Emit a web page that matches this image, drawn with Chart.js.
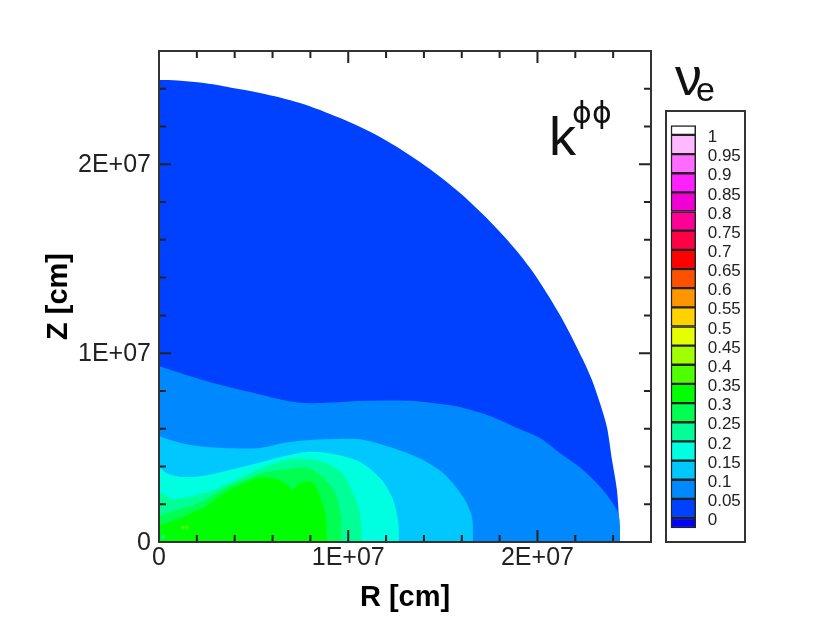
<!DOCTYPE html>
<html>
<head>
<meta charset="utf-8">
<script src="https://cdn.jsdelivr.net/npm/chart.js@4/dist/chart.umd.min.js"></script>
<style>
html,body{margin:0;padding:0;background:#fff;width:830px;height:633px;overflow:hidden}
#page{position:relative;width:830px;height:633px;filter:blur(0.55px)}
#main{position:absolute;left:0;top:0}
#box{position:absolute;left:665px;top:110px;width:81px;height:433px;box-sizing:border-box;border:2px solid #333}
#bar{display:block}
</style>
</head>
<body>
<div id="page">
<canvas id="main" width="830" height="633"></canvas>
<div id="box"><canvas id="bar" width="77" height="429"></canvas></div>
</div>
<script>
// All R/Z values are in units of 1E+07 cm.
const starR = [0,0.100,0.217,0.307,0.375,0.534,0.745,0.957,1.168,1.379,1.591,1.802,1.961,2.119,2.241,2.288,2.330,2.367,2.394,2.420,2.431,2.436];
const starZ = [2.446,2.444,2.433,2.420,2.407,2.378,2.325,2.245,2.145,2.012,1.848,1.642,1.451,1.202,0.964,0.858,0.736,0.609,0.434,0.275,0.116,0];

const level005R = [0,0.127,0.307,0.481,0.655,0.761,0.888,1.099,1.326,1.485,1.591,1.749,1.892,2.013,2.119,2.241,2.346,2.420,2.434,2.436];
const level005Z = [0.932,0.890,0.837,0.794,0.752,0.736,0.738,0.748,0.748,0.731,0.715,0.667,0.604,0.551,0.471,0.381,0.275,0.169,0.116,0];

const level010R = [0,0.058,0.164,0.338,0.534,0.655,0.798,1.046,1.184,1.363,1.501,1.607,1.654,1.659];
const level010Z = [0.561,0.540,0.514,0.498,0.498,0.524,0.540,0.545,0.514,0.450,0.365,0.238,0.132,0];

const level015R = [0,0.048,0.122,0.227,0.333,0.439,0.544,0.666,0.782,0.920,1.062,1.168,1.231,1.263,1.268];
const level015Z = [0.397,0.360,0.344,0.349,0.371,0.397,0.424,0.455,0.477,0.466,0.424,0.339,0.238,0.116,0];

const level020R = [0,0.069,0.153,0.259,0.349,0.439,0.544,0.676,0.761,0.867,0.967,1.025,1.062,1.073];
const level020Z = [0.265,0.228,0.238,0.265,0.302,0.344,0.392,0.434,0.440,0.424,0.365,0.259,0.154,0];

const level025R = [0,0.048,0.153,0.243,0.349,0.454,0.544,0.676,0.782,0.867,0.930,0.962,0.963];
const level025Z = [0.138,0.154,0.185,0.222,0.286,0.328,0.365,0.387,0.392,0.344,0.259,0.132,0];

const level030R = [0,0.085,0.174,0.243,0.312,0.402,0.523,0.597,0.655,0.708,0.745,0.787,0.824,0.851,0.877,0.888];
const level030Z = [0.085,0.116,0.154,0.185,0.238,0.291,0.339,0.339,0.318,0.281,0.312,0.323,0.302,0.238,0.154,0];

const spotR = [0.127,0.148];
const spotZ = [0.077,0.077];
const cornerR = [0.021];
const cornerZ = [0.026];

const bandLow = [-0.026,0,0.05,0.1,0.15,0.2,0.25,0.3,0.35,0.4,0.45,0.5,0.55,0.6,0.65,0.7,0.75,0.8,0.85,0.9,0.95,1];
const bandHigh = [0,0.05,0.1,0.15,0.2,0.25,0.3,0.35,0.4,0.45,0.5,0.55,0.6,0.65,0.7,0.75,0.8,0.85,0.9,0.95,1,1.024];
const bandColors = ['#0000ff','#0040ff','#0088ff','#00c8ff','#00ffe0','#00ff96','#00ff50','#00ff00','#50ff00','#a0ff00','#e6ff00','#ffd200','#ff9600','#ff5000','#ff0000','#ff0046','#ff0096','#f000d2','#ff20ff','#ff6cff','#ffb9ff','#ffffff'];
const legendLevels = [0,0.05,0.1,0.15,0.2,0.25,0.3,0.35,0.4,0.45,0.5,0.55,0.6,0.65,0.7,0.75,0.8,0.85,0.9,0.95,1];
const legendLabels = ['0','0.05','0.1','0.15','0.2','0.25','0.3','0.35','0.4','0.45','0.5','0.55','0.6','0.65','0.7','0.75','0.8','0.85','0.9','0.95','1'];

const axisTicks = [0,0.2,0.4,0.6,0.8,1,1.2,1.4,1.6,1.8,2,2.2,2.4,2.6];
const majorTicks = [0,1,2];
const majorLabels = ['0','1E+07','2E+07'];
const UNIT = 1e7;
const FONT = '"Liberation Sans", Arial, sans-serif';
const INK = '#222';

function pts(r, z) { return r.map((v, i) => ({ x: v * UNIT, y: z[i] * UNIT })); }

const layers = [
  [starR, starZ, '#0040ff'],
  [level005R, level005Z, '#0088ff'],
  [level010R, level010Z, '#00c8ff'],
  [level015R, level015Z, '#00ffe0'],
  [level020R, level020Z, '#00ff96'],
  [level025R, level025Z, '#00ff50'],
  [level030R, level030Z, '#00ff00']
];

const datasets = layers.map((l, i) => ({
  data: pts(l[0], l[1]),
  showLine: true, fill: 'origin', backgroundColor: l[2],
  borderWidth: 0, pointRadius: 0, tension: 0.3,
  order: layers.length + 2 - i
}));
datasets.push({ data: pts(spotR, spotZ), showLine: false, pointRadius: 1.6, pointBorderWidth: 0, pointBackgroundColor: '#60ff00', order: 1 });
datasets.push({ data: pts(cornerR, cornerZ), showLine: false, pointRadius: 2, pointBorderWidth: 0, pointBackgroundColor: '#00ff96', order: 0 });

const framePlugin = {
  id: 'frame',
  afterDraw(chart) {
    const { ctx, chartArea: a, scales: { x, y } } = chart;
    ctx.save();
    ctx.strokeStyle = INK;
    ctx.lineWidth = 2;
    ctx.beginPath();
    axisTicks.forEach(t => {
      const len = majorTicks.includes(t) ? 12 : 7;
      const px = x.getPixelForValue(t * UNIT);
      const py = y.getPixelForValue(t * UNIT);
      ctx.moveTo(px, a.bottom); ctx.lineTo(px, a.bottom - len);
      ctx.moveTo(px, a.top); ctx.lineTo(px, a.top + len);
      ctx.moveTo(a.left, py); ctx.lineTo(a.left + len, py);
      ctx.moveTo(a.right, py); ctx.lineTo(a.right - len, py);
    });
    ctx.stroke();
    ctx.strokeStyle = '#333';
    ctx.strokeRect(a.left, a.top, a.right - a.left, a.bottom - a.top);

    ctx.fillStyle = '#111';
    ctx.textBaseline = 'alphabetic';
    ctx.textAlign = 'left';
    ctx.font = '54px ' + FONT;
    ctx.fillText('k', 549, 155);
    ctx.font = '30px "DejaVu Sans", ' + FONT;
    ctx.fillText('\u03D5', 572, 123);
    ctx.fillText('\u03D5', 592, 123);
    ctx.font = '54px ' + FONT;
    ctx.fillText('\u03BD', 675, 95);
    ctx.font = '34px ' + FONT;
    ctx.fillText('e', 696, 101);
    ctx.restore();
  }
};

const majorBuild = s => { s.ticks = majorTicks.map(v => ({ value: v * UNIT })); };
const tickText = v => majorLabels[majorTicks.indexOf(v / UNIT)];

new Chart(document.getElementById('main'), {
  type: 'scatter',
  data: { datasets },
  plugins: [framePlugin],
  options: {
    responsive: false, animation: false, devicePixelRatio: 1,
    layout: { padding: { left: 39, right: 179, top: 51, bottom: 11 } },
    plugins: { legend: { display: false }, tooltip: { enabled: false } },
    scales: {
      x: {
        type: 'linear', min: 0, max: 2.6 * UNIT,
        grid: { display: false, drawTicks: false }, border: { display: false },
        afterBuildTicks: majorBuild,
        afterFit: s => { s.height = 80; s.paddingLeft = 0; s.paddingRight = 0; },
        ticks: { maxRotation: 0, autoSkip: false, padding: 1.5, callback: tickText, color: INK, font: { family: FONT, size: 25 } },
        title: { display: true, text: 'R [cm]', color: '#000', padding: { top: 0, bottom: 7 }, font: { family: FONT, size: 29, weight: 'bold' } }
      },
      y: {
        type: 'linear', min: 0, max: 2.6 * UNIT,
        grid: { display: false, drawTicks: false }, border: { display: false },
        afterBuildTicks: majorBuild,
        afterFit: s => { s.width = 120; s.paddingTop = 0; s.paddingBottom = 0; },
        ticks: { autoSkip: false, padding: 8, labelOffset: 1, callback: tickText, color: INK, font: { family: FONT, size: 25 } },
        title: { display: true, text: 'Z [cm]', color: '#000', padding: { top: 3, bottom: 0 }, font: { family: FONT, size: 29, weight: 'bold' } }
      }
    }
  }
});

new Chart(document.getElementById('bar'), {
  type: 'bar',
  data: {
    labels: ['level'],
    datasets: bandColors.map((c, i) => ({
      data: [[bandLow[i], bandHigh[i]]],
      backgroundColor: c, borderColor: '#222', borderWidth: 1.5, borderSkipped: false,
      barPercentage: 1, categoryPercentage: 1, clip: false
    }))
  },
  options: {
    responsive: false, animation: false, devicePixelRatio: 1,
    layout: { padding: { left: 4, right: 0, top: 13.7, bottom: 13 } },
    plugins: { legend: { display: false }, tooltip: { enabled: false } },
    scales: {
      x: { stacked: true, display: false },
      y: {
        position: 'right', min: -0.026, max: 1.024,
        grid: { display: false, drawTicks: false }, border: { display: false },
        afterBuildTicks: s => { s.ticks = legendLevels.map(v => ({ value: v })); },
        afterFit: s => { s.width = 48.3; s.paddingTop = 0; s.paddingBottom = 0; },
        ticks: {
          autoSkip: false, padding: 12, labelOffset: 2.5, color: INK,
          callback: v => legendLabels[legendLevels.indexOf(v)],
          font: { family: FONT, size: 17 }
        }
      }
    }
  }
});
</script>
</body>
</html>
